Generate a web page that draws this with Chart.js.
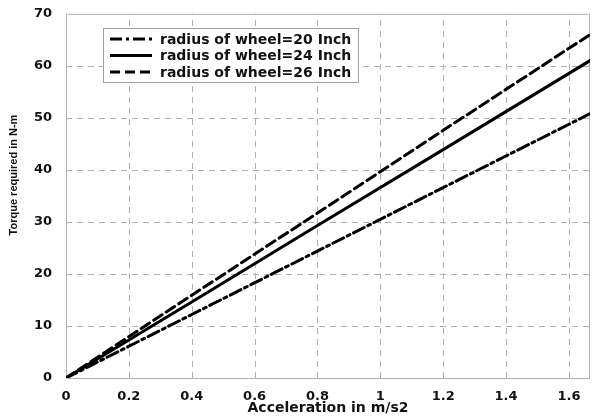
<!DOCTYPE html>
<html>
<head>
<meta charset="utf-8">
<script src="https://cdn.jsdelivr.net/npm/chart.js@4"></script>
<style>
  html, body { margin: 0; padding: 0; background: #fff; }
  #wrap { width: 598px; height: 417px; position: relative; }
</style>
</head>
<body>
<div id="wrap"><canvas id="chart"></canvas></div>
<script>
// acceleration (m/s2) and torque (N-m)
const accel = [0, 0.4, 0.8, 1.2, 1.667];
const torque20 = [0, 12.2, 24.4, 36.6, 50.8];
const torque24 = [0, 14.6, 29.3, 43.9, 61.0];
const torque26 = [0, 15.9, 31.7, 47.6, 66.0];
const seriesLabels = ['radius of wheel=20 Inch', 'radius of wheel=24 Inch', 'radius of wheel=26 Inch'];
const xTicks = [0, 0.2, 0.4, 0.6, 0.8, 1, 1.2, 1.4, 1.6];
const yTicks = [0, 10, 20, 30, 40, 50, 60, 70];
const yTitle = 'Torque required in N-m';

const FONT = 'DejaVu Sans, Verdana, sans-serif';
const GRID = '#b0b0b0';

const pts = ys => accel.map((x, i) => ({ x, y: ys[i] }));

// grille pointillee (style Matlab), dessinee sous les courbes
const dashedGrid = {
  id: 'dashedGrid',
  beforeDatasetsDraw(chart) {
    const { ctx, chartArea: a, scales: { x, y } } = chart;
    ctx.save();
    ctx.strokeStyle = GRID;
    ctx.lineWidth = 1;
    ctx.setLineDash([6, 5]);
    x.ticks.forEach(t => {
      const px = Math.round(x.getPixelForValue(t.value)) + 0.5;
      if (px <= a.left + 1 || px >= a.right - 1) return;
      ctx.beginPath(); ctx.moveTo(px, a.bottom); ctx.lineTo(px, a.top); ctx.stroke();
    });
    y.ticks.forEach(t => {
      const py = Math.round(y.getPixelForValue(t.value)) + 0.5;
      if (py <= a.top + 1 || py >= a.bottom - 1) return;
      ctx.beginPath(); ctx.moveTo(a.left, py); ctx.lineTo(a.right, py); ctx.stroke();
    });
    ctx.setLineDash([]);
    ctx.strokeRect(a.left + 0.5, a.top + 0.5, a.right - a.left - 1, a.bottom - a.top);
    ctx.restore();
  }
};

// legende encadree + titre vertical
const boxLegend = {
  id: 'boxLegend',
  afterDraw(chart) {
    const { ctx } = chart;
    ctx.save();
    const lx = 103, ly = 28, lw = 255, lh = 54;
    ctx.fillStyle = '#fff';
    ctx.fillRect(lx, ly, lw, lh);
    ctx.strokeStyle = '#a0a0a0';
    ctx.lineWidth = 1;
    ctx.strokeRect(lx + 0.5, ly + 0.5, lw, lh);
    ctx.font = 'bold 14px ' + FONT;
    ctx.textBaseline = 'middle';
    chart.data.datasets.forEach((ds, i) => {
      const y = ly + 11 + i * 16.5;
      ctx.strokeStyle = '#000';
      ctx.lineWidth = 3;
      ctx.setLineDash(ds.borderDash || []);
      ctx.beginPath();
      ctx.moveTo(lx + 7, y);
      ctx.lineTo(lx + 49, y);
      ctx.stroke();
      ctx.setLineDash([]);
      ctx.fillStyle = '#111';
      ctx.fillText(ds.label, lx + 57, y + 1);
    });

    ctx.translate(14, 175);
    ctx.rotate(-Math.PI / 2);
    ctx.font = 'bold 11px Liberation Sans Narrow, Arial Narrow, sans-serif';
    ctx.textAlign = 'center';
    ctx.textBaseline = 'middle';
    ctx.fillStyle = '#111';
    ctx.fillText(yTitle, 0, 0);
    ctx.restore();
  }
};

const mk = (label, ys, dash) => ({
  label, data: pts(ys), borderColor: '#000', borderWidth: 3, borderDash: dash,
  pointRadius: 0, fill: false, tension: 0, borderCapStyle: 'round'
});

new Chart(document.getElementById('chart'), {
  type: 'line',
  data: {
    datasets: [
      mk(seriesLabels[0], torque20, [12, 4, 3, 4]),
      mk(seriesLabels[1], torque24, []),
      mk(seriesLabels[2], torque26, [10, 5]),
    ],
  },
  options: {
    responsive: true,
    maintainAspectRatio: false,
    animation: false,
    layout: { padding: { top: 12, right: 8, left: 0, bottom: 0 } },
    plugins: { legend: { display: false }, tooltip: { enabled: false } },
    scales: {
      x: {
        type: 'linear', min: 0, max: 1.667,
        afterBuildTicks: s => { s.ticks = xTicks.map(v => ({ value: v })); },
        afterFit: s => { s.height = 39; },
        ticks: { color: '#111', font: { family: FONT, size: 13, weight: 'bold' }, padding: 3, maxRotation: 0,
                 callback: v => String(+v.toFixed(1)) },
        grid: { display: false },
        border: { display: false },
        title: { display: true, text: 'Acceleration in m/s2', color: '#111',
                 font: { family: FONT, size: 14, weight: 'bold' }, padding: { top: 0, bottom: 0 } },
      },
      y: {
        min: 0, max: 70,
        afterBuildTicks: s => { s.ticks = yTicks.map(v => ({ value: v })); },
        afterFit: s => { s.width = 66; },
        ticks: { color: '#111', font: { family: FONT, size: 13, weight: 'bold' }, padding: 6 },
        grid: { display: false },
        border: { display: false },
      },
    },
  },
  plugins: [dashedGrid, boxLegend],
});
</script>
</body>
</html>
